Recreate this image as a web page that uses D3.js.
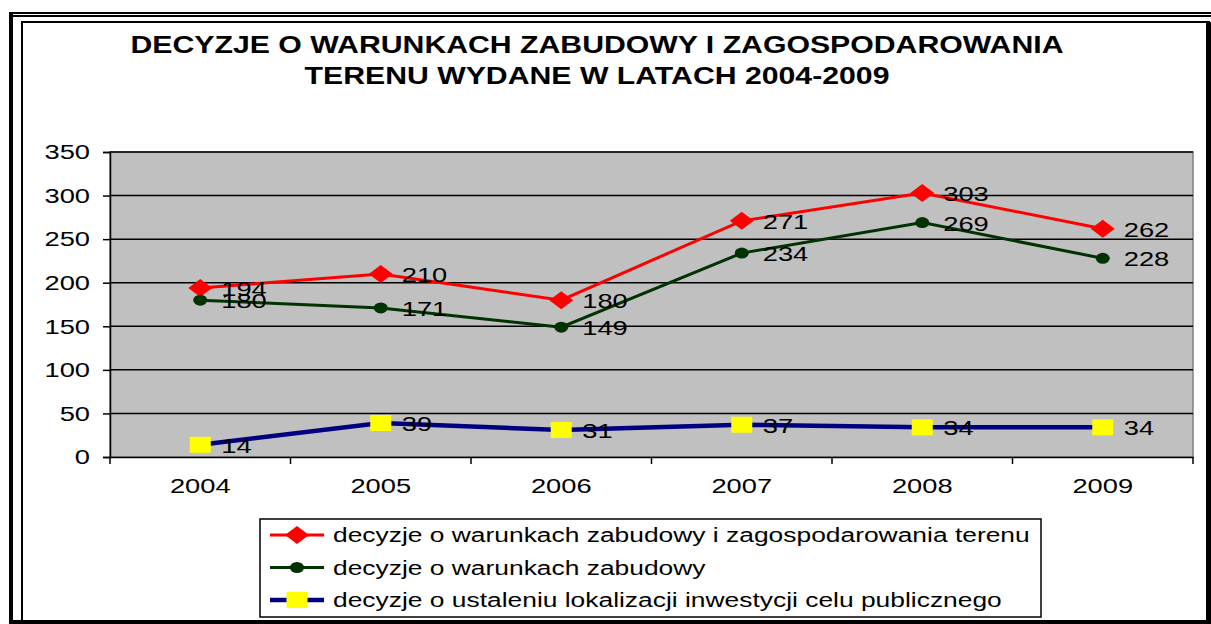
<!DOCTYPE html>
<html>
<head>
<meta charset="utf-8">
<script src="https://cdn.jsdelivr.net/npm/d3@7/dist/d3.min.js"></script>
<style>
	body { margin: 0; background: #fff; }
	svg text { font-family: Arial, "Liberation Sans", sans-serif; fill: #000; }
</style>
</head>
<body>
<svg id="chart"></svg>
<script>
// data
var years = ["2004", "2005", "2006", "2007", "2008", "2009"];
var zagospodarowania = [194, 210, 180, 271, 303, 262];
var zabudowy = [180, 171, 149, 234, 269, 228];
var celuPublicznego = [14, 39, 31, 37, 34, 34];
var yTicks = [0, 50, 100, 150, 200, 250, 300, 350];
var seriesNames = [
	"decyzje o warunkach zabudowy i zagospodarowania terenu",
	"decyzje o warunkach zabudowy",
	"decyzje o ustaleniu lokalizacji inwestycji celu publicznego"
];

var width = 1211,
	height = 624,
	stretch = 1.3;	// reference text is wider than Liberation Sans

var svg = d3.select("#chart")
	.attr("width", width)
	.attr("height", height);

// text placed at (x,y), stretched horizontally around its anchor
function stretchedText(parent, x, y, sx){
	return parent.append("text")
		.attr("transform", "translate(" + x + "," + y + ") scale(" + sx + ",1)");
}

// frame
svg.append("rect").attr("x", 22).attr("y", 22).attr("width", 1187).attr("height", 599)
	.attr("fill", "none").attr("stroke", "#000").attr("stroke-width", 2);
svg.append("rect").attr("x", 9).attr("y", 12).attr("width", 4).attr("height", 612).attr("fill", "#000");
svg.append("rect").attr("x", 9).attr("y", 12).attr("width", 1202).attr("height", 2).attr("fill", "#000");
svg.append("rect").attr("x", 9).attr("y", 15).attr("width", 1202).attr("height", 2).attr("fill", "#000");
svg.append("rect").attr("x", 1206).attr("y", 22).attr("width", 5).attr("height", 602).attr("fill", "#000");
svg.append("rect").attr("x", 9).attr("y", 620).attr("width", 1202).attr("height", 4).attr("fill", "#000");

// title
stretchedText(svg, 597, 53, 1.26)
	.attr("text-anchor", "middle").attr("font-weight", "bold").attr("font-size", 24)
	.text("DECYZJE O WARUNKACH ZABUDOWY I ZAGOSPODAROWANIA");
stretchedText(svg, 597, 84, 1.26)
	.attr("text-anchor", "middle").attr("font-weight", "bold").attr("font-size", 24)
	.text("TERENU WYDANE W LATACH 2004-2009");

// plot area
var plotLeft = 110, plotRight = 1193, plotTop = 152, plotBottom = 457;

var x = d3.scaleBand().domain(years).range([plotLeft, plotRight]);
var y = d3.scaleLinear().domain([0, 350]).range([plotBottom, plotTop]);
var cx = function(d){ return x(d) + x.bandwidth() / 2; };

svg.append("rect")
	.attr("x", plotLeft).attr("y", plotTop)
	.attr("width", plotRight - plotLeft).attr("height", plotBottom - plotTop)
	.attr("fill", "#c0c0c0")
	.attr("stroke", "#808080").attr("stroke-width", 1.5);

svg.append("g")
	.selectAll("line")
	.data(yTicks.filter(function(d){ return d > 0; }))
	.enter()
		.append("line")
			.attr("x1", plotLeft).attr("x2", plotRight)
			.attr("y1", function(d){ return y(d); })
			.attr("y2", function(d){ return y(d); })
			.attr("stroke", "#000").attr("stroke-width", 1.5);

// axes
var yAxis = svg.append("g")
	.attr("transform", "translate(" + plotLeft + ",0)")
	.call(d3.axisLeft(y).tickValues(yTicks).tickSize(7));
yAxis.selectAll("text")
	.attr("font-size", 21)
	.attr("x", -20 / stretch)
	.attr("transform", "scale(" + stretch + ",1)")
	.style("font-family", "Arial, 'Liberation Sans', sans-serif");

var xAxis = svg.append("g")
	.attr("transform", "translate(0," + plotBottom + ")")
	.call(d3.axisBottom(x).tickSize(0).tickPadding(21));
xAxis.selectAll("text")
	.attr("font-size", 21)
	.attr("transform", "scale(" + stretch + ",1)")
	.style("font-family", "Arial, 'Liberation Sans', sans-serif");
xAxis.selectAll(".bound")
	.data(d3.range(years.length + 1))
	.enter()
		.append("line")
			.attr("x1", function(i){ return plotLeft + i * x.bandwidth(); })
			.attr("x2", function(i){ return plotLeft + i * x.bandwidth(); })
			.attr("y1", 0).attr("y2", 7)
			.attr("stroke", "#000").attr("stroke-width", 1.5);
svg.selectAll(".domain").attr("stroke", "#000").attr("stroke-width", 1.5);
svg.selectAll(".tick line").attr("stroke-width", 1.5);

// series
var series = [
	{ name: seriesNames[0], values: zagospodarowania, color: "#ff0000", width: 3, marker: "diamond", fill: "#ff0000" },
	{ name: seriesNames[1], values: zabudowy, color: "#003300", width: 3, marker: "circle", fill: "#003300" },
	{ name: seriesNames[2], values: celuPublicznego, color: "#000080", width: 4.5, marker: "square", fill: "#ffff00" }
];

var line = d3.line()
	.x(function(d){ return cx(d.year); })
	.y(function(d){ return y(d.value); });

function drawMarker(g, type, fill){
	if (type === "diamond") {
		g.append("path").attr("d", "M-12,0L0,-9L12,0L0,9Z").attr("fill", fill);
	} else if (type === "circle") {
		g.append("ellipse").attr("rx", 7).attr("ry", 5.5).attr("fill", fill);
	} else {
		g.append("rect").attr("x", -10.5).attr("y", -8).attr("width", 21).attr("height", 16).attr("fill", fill);
	}
}

var labels = svg.append("g");

series.forEach(function(s){
	var pts = s.values.map(function(v, i){ return { year: years[i], value: v }; });

	svg.append("path")
		.datum(pts)
		.attr("d", line)
		.attr("fill", "none")
		.attr("stroke", s.color)
		.attr("stroke-width", s.width);

	pts.forEach(function(p){
		var g = svg.append("g").attr("transform", "translate(" + cx(p.year) + "," + y(p.value) + ")");
		drawMarker(g, s.marker, s.fill);
		stretchedText(labels, cx(p.year) + 21, y(p.value) + 8, stretch)
			.attr("font-size", 21)
			.text(p.value);
	});
});

labels.raise();

// legend
svg.append("rect")
	.attr("x", 260).attr("y", 519)
	.attr("width", 781).attr("height", 98)
	.attr("fill", "#fff").attr("stroke", "#000").attr("stroke-width", 1.5);

series.forEach(function(s, i){
	var ly = 535 + i * 32.5;
	svg.append("line")
		.attr("x1", 270).attr("x2", 324)
		.attr("y1", ly).attr("y2", ly)
		.attr("stroke", s.color).attr("stroke-width", s.width);
	var g = svg.append("g").attr("transform", "translate(297," + ly + ")");
	drawMarker(g, s.marker, s.fill);
	stretchedText(svg, 333, ly + 7, 1.32)
		.attr("font-size", 20)
		.text(s.name);
});
</script>
</body>
</html>
